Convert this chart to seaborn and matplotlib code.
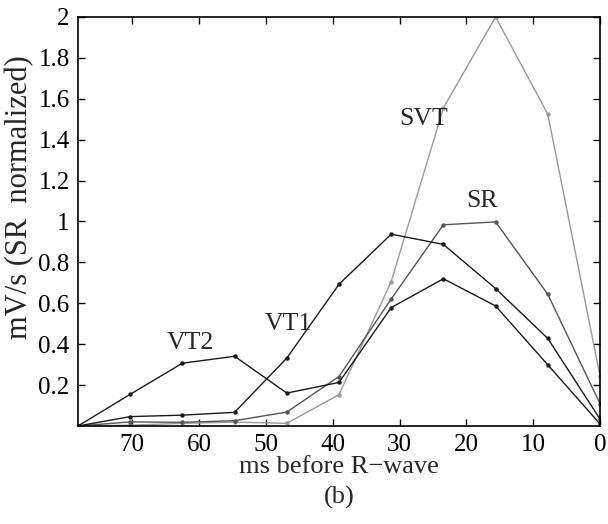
import matplotlib
matplotlib.use("Agg")
import matplotlib.pyplot as plt
import seaborn as sns
import pandas as pd
from matplotlib.ticker import FuncFormatter

# data
t_ms = [78.125, 70.3125, 62.5, 54.6875, 46.875, 39.0625, 31.25, 23.4375, 15.625, 7.8125, 0.0]
vt2 = [0.0, 0.155, 0.307, 0.341, 0.161, 0.213, 0.579, 0.720, 0.587, 0.299, 0.010]
vt1 = [0.0, 0.046, 0.053, 0.067, 0.332, 0.693, 0.938, 0.888, 0.672, 0.428, 0.034]
sr = [0.0, 0.020, 0.018, 0.026, 0.068, 0.242, 0.621, 0.984, 0.998, 0.644, 0.109]
svt = [0.0, 0.004, 0.013, 0.019, 0.013, 0.153, 0.706, 1.556, 2.000, 1.525, 0.245]
series_names = ["SVT", "SR", "VT1", "VT2"]
x_ticks = [70, 60, 50, 40, 30, 20, 10, 0]
y_ticks = [0.2, 0.4, 0.6, 0.8, 1.0, 1.2, 1.4, 1.6, 1.8, 2.0]

rows = []
for name, vals in zip(series_names, [svt, sr, vt1, vt2]):
    for x, y in zip(t_ms, vals):
        rows.append({"t": x, "v": y, "series": name})
df = pd.DataFrame(rows)

sns.set_style("ticks")
plt.rcParams["font.family"] = ["Liberation Serif", "DejaVu Serif"]

fig = plt.figure(figsize=(6.08, 5.24), dpi=100)
ax = fig.add_axes([78 / 608, 1 - 426 / 524, (600 - 78) / 608, (426 - 17) / 524])

palette = {"SVT": "#9a9a9a", "SR": "#555555", "VT1": "#1a1a1a", "VT2": "#1a1a1a"}
sns.lineplot(data=df, x="t", y="v", hue="series", palette=palette, hue_order=series_names,
             marker="o", markersize=3.2, markeredgewidth=0, linewidth=1.0,
             legend=False, ax=ax, estimator=None, sort=False)

ax.set_xlim(78.125, 0)
ax.set_ylim(0, 2)
ax.set_xticks(x_ticks)
ax.set_yticks(y_ticks)
ax.yaxis.set_major_formatter(FuncFormatter(lambda v, p: f"{v:g}"))
for s in ax.spines.values():
    s.set_visible(True)
    s.set_linewidth(1.2)
    s.set_color("black")
ax.tick_params(direction="in", length=5, width=1, top=True, right=True,
               labelsize=18, pad=6, colors="black")

ax.set_xlabel("ms before R\u2212wave", fontsize=19, labelpad=0)
ax.set_ylabel("mV/s (SR  normalized)", fontsize=22)
ax.yaxis.set_label_coords(-0.084, 0.56)

ax.text(26.4, 1.50, "SVT", fontsize=18.5, ha="center", va="center")
ax.text(17.6, 1.10, "SR", fontsize=18.5, ha="center", va="center")
ax.text(46.6, 0.50, "VT1", fontsize=18.5, ha="center", va="center")
ax.text(61.35, 0.405, "VT2", fontsize=18.5, ha="center", va="center")

fig.text(339 / 608, 1 - 497 / 524, "(b)", fontsize=19, ha="center", va="center")

fig.savefig("out.png", dpi=100)
